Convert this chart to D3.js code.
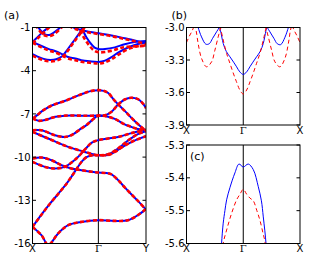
<!DOCTYPE html>
<html>
<head>
<meta charset="utf-8">
<script src="https://cdn.jsdelivr.net/npm/d3@7"></script>
<style>
  body { margin: 0; background: #fff; }
  svg { display: block; }
  text { font-family: "DejaVu Sans", sans-serif; font-size: 10px; fill: #000; }
  .gam { font-family: "DejaVu Serif", serif; }
</style>
</head>
<body>
<svg id="chart" width="316" height="264"></svg>
<script>
// ---- panel (a): full band structure, k: X=0, Gamma=1, Y=1.723 ----
const kTicksA = [0, 1, 1.723];
const kLabelsA = ["X", "Γ", "Y"];
const eTicksA = [-1, -4, -7, -10, -13, -16];

// upper group (blue = solid, red = dashed, slightly shifted)
const a1Blue = [[0.06,-0.85],[0.09,-1.0],[0.14,-1.3],[0.2,-1.5],[0.27,-1.5],[0.34,-1.3],[0.42,-1.0],[0.45,-0.85]];
const a1Red  = [[0.04,-0.85],[0.07,-1.0],[0.13,-1.35],[0.2,-1.58],[0.28,-1.58],[0.36,-1.35],[0.44,-1.0],[0.47,-0.85]];
const a2Blue = [[0,-2.0],[0.08,-1.65],[0.16,-1.3],[0.24,-1.0],[0.27,-0.85]];
const a2Red  = [[0,-2.1],[0.08,-1.75],[0.16,-1.4],[0.25,-1.0],[0.28,-0.85]];
const a3Blue = [[0,-2.0],[0.12,-2.25],[0.25,-2.5],[0.34,-2.63],[0.45,-2.85],[0.54,-3.05],[0.65,-3.15],[0.74,-3.27],[0.87,-3.35],[1.0,-3.39],[1.1,-3.3],[1.2,-3.05],[1.3,-2.75],[1.45,-2.39],[1.6,-2.15],[1.723,-2.02]];
const a3Red  = [[0,-2.05],[0.12,-2.35],[0.25,-2.6],[0.34,-2.72],[0.45,-2.95],[0.54,-3.15],[0.65,-3.27],[0.74,-3.38],[0.87,-3.45],[1.0,-3.5],[1.1,-3.42],[1.2,-3.2],[1.3,-2.9],[1.45,-2.5],[1.6,-2.3],[1.723,-2.25]];
const a4Blue = [[0,-2.85],[0.07,-3.0],[0.17,-3.18],[0.27,-3.25],[0.36,-3.2],[0.45,-3.0],[0.52,-2.6],[0.6,-2.1],[0.68,-1.6],[0.76,-1.1],[0.8,-0.85]];
const a4Red  = [[0,-2.95],[0.07,-3.1],[0.17,-3.28],[0.27,-3.35],[0.36,-3.3],[0.45,-3.1],[0.52,-2.72],[0.6,-2.2],[0.68,-1.7],[0.76,-1.2],[0.81,-0.85]];
const a5Blue = [[0.7,-0.85],[0.74,-1.0],[0.82,-1.7],[0.9,-2.2],[0.95,-2.42],[1.0,-2.5],[1.1,-2.5],[1.25,-2.38],[1.4,-2.16],[1.55,-2.0],[1.723,-1.93]];
const a5Red  = [[0.66,-0.85],[0.7,-1.0],[0.78,-1.7],[0.87,-2.3],[0.94,-2.62],[1.0,-2.72],[1.1,-2.7],[1.25,-2.55],[1.35,-2.4],[1.5,-2.32],[1.723,-2.28]];
const a6Blue = [[0.55,-0.85],[0.65,-1.05],[0.8,-1.25],[1.0,-1.4],[1.2,-1.55],[1.4,-1.75],[1.55,-1.9],[1.723,-2.1]];
const a6Red  = [[0.55,-0.9],[0.65,-1.1],[0.8,-1.3],[1.0,-1.45],[1.2,-1.6],[1.4,-1.8],[1.55,-1.95],[1.723,-2.15]];

// middle and lower groups (blue and red coincide)
const a7  = [[0,-7.35],[0.08,-7.05],[0.167,-6.74],[0.3,-6.4],[0.52,-6.05],[0.65,-5.8],[0.773,-5.58],[0.9,-5.4],[1.0,-5.35],[1.08,-5.4],[1.15,-5.55],[1.25,-6.1],[1.4,-6.79],[1.55,-7.49],[1.723,-8.2]];
const a8  = [[0,-7.3],[0.09,-7.48],[0.19,-7.42],[0.35,-7.2],[0.5,-7.12],[0.7,-7.12],[0.85,-7.13],[1.0,-7.12],[1.1,-7.15],[1.25,-7.35],[1.374,-7.67],[1.5,-7.9],[1.6,-8.05],[1.723,-8.12]];
const a9  = [[0,-8.13],[0.136,-8.13],[0.34,-8.48],[0.49,-8.6],[0.59,-8.48],[0.742,-8.01],[0.818,-7.78],[0.9,-7.45],[1.0,-7.12],[1.1,-7.1],[1.2,-6.85],[1.3,-6.35],[1.4,-6.0],[1.5,-5.88],[1.6,-5.98],[1.68,-6.3],[1.723,-6.6]];
const a10 = [[0,-8.25],[0.238,-8.71],[0.541,-9.29],[0.794,-9.64],[1.0,-9.87],[1.15,-9.8],[1.3,-9.4],[1.45,-8.85],[1.6,-8.4],[1.723,-8.2]];
const a11 = [[0,-14.85],[0.136,-14.0],[0.268,-13.22],[0.4,-12.5],[0.52,-11.83],[0.6,-11.3],[0.68,-10.75],[0.75,-10.3],[0.82,-10.0],[0.9,-9.88],[1.0,-9.87],[1.15,-9.85],[1.25,-9.64],[1.4,-9.2],[1.55,-8.85],[1.723,-8.55]];
const a12 = [[0,-10.33],[0.19,-10.68],[0.34,-10.79],[0.49,-10.68],[0.6,-10.35],[0.7,-9.95],[0.8,-9.45],[0.9,-9.0],[1.0,-8.82],[1.147,-8.71],[1.3,-8.6],[1.53,-8.3],[1.723,-8.1]];
const a13 = [[0,-10.1],[0.136,-10.03],[0.29,-10.22],[0.44,-10.56],[0.59,-10.79],[0.742,-10.91],[0.9,-11.02],[1.0,-11.07],[1.1,-11.1],[1.2,-11.2],[1.3,-11.6],[1.4,-12.1],[1.5,-12.58],[1.6,-13.04],[1.723,-13.65]];
const a14 = [[0,-14.85],[0.136,-15.42],[0.24,-16.1],[0.389,-15.3],[0.541,-14.73],[0.742,-14.5],[1.0,-14.38],[1.25,-14.43],[1.45,-14.38],[1.6,-14.03],[1.703,-13.68],[1.723,-13.6]];

const blueA = [a1Blue, a2Blue, a3Blue, a4Blue, a5Blue, a6Blue, a7, a8, a9, a10, a11, a12, a13, a14];
const redA  = [a1Red, a2Red, a3Red, a4Red, a5Red, a6Red, a7, a8, a9, a10, a11, a12, a13, a14];

// ---- panel (b): zoom near -3 eV, k: X=0, Gamma=1, X=2 ----
const kTicksBC = [0, 1, 2];
const kLabelsBC = ["X", "Γ", "X"];
const eTicksB = [-3.0, -3.3, -3.6, -3.9];
const blueB = [
  [[0.19,-2.97],[0.205,-3.0],[0.265,-3.087],[0.341,-3.154],[0.4,-3.15],[0.46,-3.1],[0.53,-3.04],[0.576,-3.0],[0.59,-2.98]],
  [[0.57,-2.97],[0.6,-3.03],[0.647,-3.147],[0.7,-3.22],[0.765,-3.27],[0.83,-3.32],[0.883,-3.363],[0.94,-3.41],[1.0,-3.433],[1.06,-3.41],[1.117,-3.363],[1.17,-3.32],[1.235,-3.27],[1.3,-3.22],[1.353,-3.147],[1.4,-3.03],[1.43,-2.97]],
  [[1.41,-2.98],[1.424,-3.0],[1.47,-3.04],[1.54,-3.1],[1.6,-3.15],[1.66,-3.158],[1.735,-3.09],[1.795,-3.0],[1.81,-2.97]]
];
const redB = [
  [[0,-3.14],[0.05,-3.08],[0.1,-3.03],[0.14,-2.98]],
  [[0.14,-2.97],[0.17,-3.03],[0.205,-3.147],[0.265,-3.285],[0.353,-3.363],[0.442,-3.317],[0.5,-3.21],[0.558,-3.087],[0.588,-3.025],[0.6,-2.98]],
  [[0.59,-2.98],[0.64,-3.1],[0.707,-3.24],[0.765,-3.33],[0.823,-3.42],[0.88,-3.5],[0.94,-3.577],[1.0,-3.614],[1.06,-3.577],[1.12,-3.5],[1.177,-3.42],[1.235,-3.33],[1.293,-3.24],[1.36,-3.1],[1.41,-2.98]],
  [[1.4,-2.98],[1.412,-3.025],[1.442,-3.087],[1.5,-3.21],[1.558,-3.317],[1.647,-3.363],[1.735,-3.285],[1.795,-3.147],[1.83,-3.03],[1.86,-2.97]],
  [[1.86,-2.98],[1.9,-3.03],[1.95,-3.08],[2.0,-3.14]]
];

// ---- panel (c): zoom near -5.4 eV ----
const eTicksC = [-5.3, -5.4, -5.5, -5.6];
const blueC = [
  [[0.605,-5.65],[0.618,-5.6],[0.647,-5.538],[0.677,-5.5],[0.707,-5.467],[0.765,-5.43],[0.853,-5.385],[0.925,-5.358],[1.0,-5.367],[1.088,-5.358],[1.177,-5.375],[1.265,-5.427],[1.32,-5.47],[1.353,-5.519],[1.401,-5.6],[1.41,-5.65]]
];
const redC = [
  [[0.635,-5.65],[0.647,-5.6],[0.707,-5.559],[0.795,-5.508],[0.883,-5.467],[0.942,-5.45],[1.0,-5.435],[1.06,-5.45],[1.12,-5.462],[1.177,-5.47],[1.24,-5.5],[1.295,-5.53],[1.35,-5.57],[1.383,-5.595],[1.4,-5.65]]
];

const svg = d3.select("#chart");

function drawPanel(id, box, xDom, yDom, kTicks, kLabels, eTicks, blues, reds, opt) {
  const x = d3.scaleLinear().domain(xDom).range([box.x0, box.x1]);
  const y = d3.scaleLinear().domain(yDom).range([box.y1, box.y0]);

  svg.append("clipPath").attr("id", "clip-" + id)
    .append("rect")
    .attr("x", box.x0).attr("y", box.y0)
    .attr("width", box.x1 - box.x0).attr("height", box.y1 - box.y0);

  const g = svg.append("g").attr("clip-path", `url(#clip-${id})`);
  const line = d3.line().x(d => x(d[0])).y(d => y(d[1])).curve(d3.curveCatmullRom.alpha(0.5));

  // Gamma line
  g.append("line")
    .attr("x1", x(kTicks[1])).attr("x2", x(kTicks[1]))
    .attr("y1", box.y0).attr("y2", box.y1)
    .attr("stroke", "#000").attr("stroke-width", 1);

  g.selectAll(".blue").data(blues).enter().append("path")
    .attr("d", line).attr("fill", "none")
    .attr("stroke", "#0000ff").attr("stroke-width", opt.bw);

  g.selectAll(".red").data(reds).enter().append("path")
    .attr("d", line).attr("fill", "none")
    .attr("stroke", "#ff0000").attr("stroke-width", opt.rw)
    .attr("stroke-dasharray", opt.dash);

  // inward ticks on both sides
  const tl = 3.5;
  eTicks.forEach(v => {
    svg.append("line").attr("x1", box.x0).attr("x2", box.x0 + tl)
      .attr("y1", y(v)).attr("y2", y(v)).attr("stroke", "#000").attr("stroke-width", 1);
    svg.append("line").attr("x1", box.x1 - tl).attr("x2", box.x1)
      .attr("y1", y(v)).attr("y2", y(v)).attr("stroke", "#000").attr("stroke-width", 1);
    svg.append("text").attr("x", box.x0 - 2).attr("y", y(v) + 3.6)
      .attr("text-anchor", "end")
      .text(d3.format(opt.fmt)(v).replace("−", "-"));
  });

  kTicks.forEach((v, i) => {
    svg.append("text").attr("x", x(v)).attr("y", box.y1 + 8.6)
      .attr("text-anchor", "middle")
      .attr("class", kLabels[i] === "Γ" ? "gam" : null)
      .text(kLabels[i]);
  });

  svg.append("rect")
    .attr("x", box.x0).attr("y", box.y0)
    .attr("width", box.x1 - box.x0).attr("height", box.y1 - box.y0)
    .attr("fill", "none").attr("stroke", "#000").attr("stroke-width", 1);
}

drawPanel("a", {x0: 32.5, x1: 146, y0: 27.5, y1: 243.5}, [0, 1.723], [-16, -1],
  kTicksA, kLabelsA, eTicksA, blueA, redA, {bw: 2, rw: 2.6, dash: "4,2.5", fmt: "d"});
drawPanel("b", {x0: 186.5, x1: 300, y0: 27.5, y1: 125}, [0, 2], [-3.9, -3.0],
  kTicksBC, kLabelsBC, eTicksB, blueB, redB, {bw: 1, rw: 1, dash: "4,3", fmt: ".1f"});
drawPanel("c", {x0: 186.5, x1: 300, y0: 145, y1: 243.5}, [0, 2], [-5.6, -5.3],
  kTicksBC, kLabelsBC, eTicksC, blueC, redC, {bw: 1, rw: 1, dash: "4,3", fmt: ".1f"});

// panel labels
svg.append("text").attr("x", 4).attr("y", 18.5).style("font-size", "11px").text("(a)");
svg.append("text").attr("x", 171.5).attr("y", 18.5).style("font-size", "11px").text("(b)");
svg.append("text").attr("x", 190).attr("y", 159.5).style("font-size", "11px").text("(c)");
</script>
</body>
</html>
